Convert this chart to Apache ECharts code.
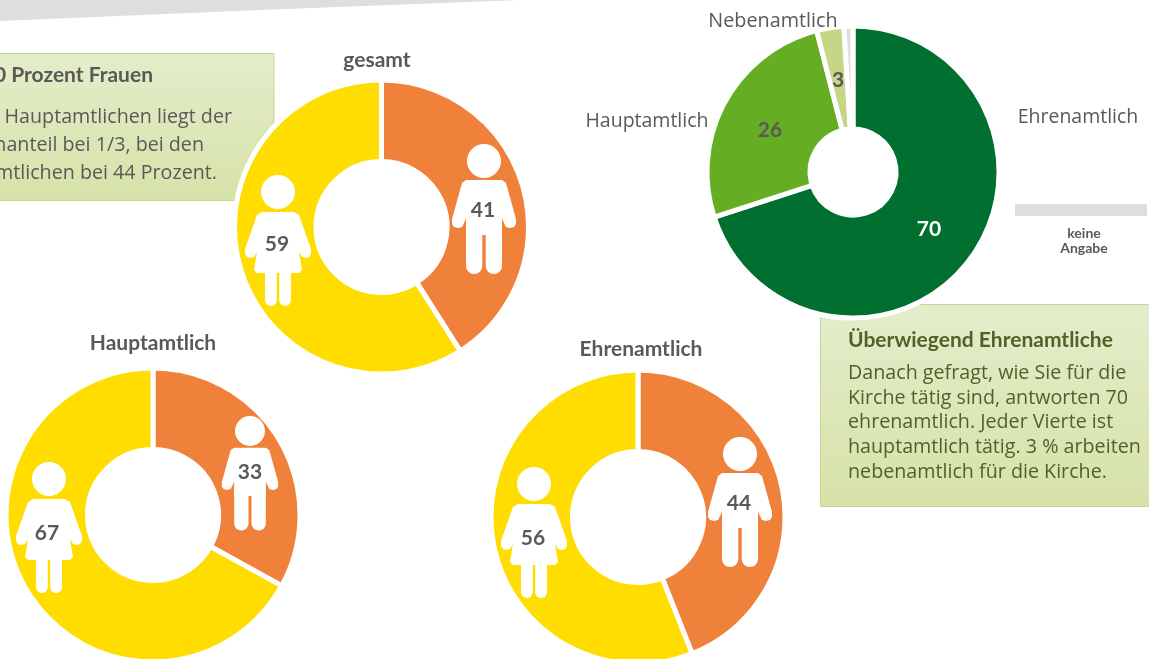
<!DOCTYPE html>
<html>
<head>
<meta charset="utf-8">
<style>
  html, body { margin: 0; padding: 0; background: #fff; overflow: hidden; }
  #chart { width: 1149px; height: 659px; }
</style>
<script src="https://cdn.jsdelivr.net/npm/echarts@6/dist/echarts.min.js"></script>
</head>
<body>
<div id="chart"></div>
<script>
// Data
const genderNames = ['Männer', 'Frauen'];
const gesamtValues = [41, 59];
const hauptamtValues = [33, 67];
const ehrenamtValues = [44, 56];
const roleNames = ['Ehrenamtlich', 'Hauptamtlich', 'Nebenamtlich', 'keine Angabe'];
const roleValues = [70, 26, 3, 1];

const genderColors = ['#f0813a', '#ffdd00'];
const roleColors = ['#006f2f', '#65ae24', '#c5d686', '#dedede'];

const grayText = '#595959';
const boxText = '#4f6228';
const font = 'Lato';
const bodyFont = '"Open Sans"';

const leftBoxLines = ['Bei den Hauptamtlichen liegt der', 'Frauenanteil bei 1/3, bei den', 'Ehrenamtlichen bei 44 Prozent.'];
const rightBoxLines = [
    'Danach gefragt, wie Sie für die',
    'Kirche tätig sind, antworten 70',
    'ehrenamtlich. Jeder Vierte ist',
    'hauptamtlich tätig. 3 % arbeiten',
    'nebenamtlich für die Kirche.'
];

// Person icons, origin at the centre of the head
const manBody = [[-18, 19], [18, 19], [22, 22], [32, 58], [32, 63], [30, 66], [26, 67], [22, 66], [19, 60], [18, 57], [18, 74], [-18, 74], [-18, 57], [-19, 60], [-22, 66], [-26, 67], [-30, 66], [-32, 63], [-32, 58], [-22, 22]];
const manLegs = [[-18, 60, 16.3, 53, 8], [1.7, 60, 16.3, 53, 8]];
const womanBody = [[-16, 20], [16, 20], [21, 23], [33, 57], [33, 62], [31, 65], [28, 66], [24, 65], [21, 60], [24, 78], [21, 81], [-21, 81], [-24, 78], [-21, 60], [-24, 65], [-28, 66], [-31, 65], [-33, 62], [-33, 57], [-21, 23]];
const womanLegs = [[-13, 76, 11.8, 38, 5.7], [1.2, 76, 11.8, 38, 5.7]];

function personIcon(body, legs, x, y, scale) {
    const white = { fill: '#fff' };
    return {
        type: 'group',
        children: [
            { type: 'circle', z: 4, z2: 2.5, shape: { cx: x, cy: y, r: 17 * scale }, style: white },
            {
                type: 'polygon',
                z: 4,
                z2: 2.5,
                shape: { points: body.map(p => [x + p[0] * scale, y + p[1] * scale]) },
                style: white
            }
        ].concat(legs.map(l => ({
            type: 'rect',
            z: 4,
            z2: 2.5,
            shape: {
                x: x + l[0] * scale,
                y: y + l[1] * scale,
                width: l[2] * scale,
                height: l[3] * scale,
                r: l[4] * scale
            },
            style: white
        })))
    };
}

function label(text, x, y, size, weight, color, family, align) {
    return {
        type: 'text',
        z: 6,
        x: x,
        y: y,
        style: {
            text: text,
            fontSize: size,
            fontWeight: weight,
            fontFamily: family || font,
            fill: color,
            align: align || 'center',
            verticalAlign: 'middle'
        }
    };
}

function greenBox(x, y, w, h) {
    return {
        type: 'rect',
        z: 1,
        shape: { x: x, y: y, width: w, height: h },
        style: {
            fill: new echarts.graphic.LinearGradient(0, 0, 0, 1, [
                { offset: 0, color: '#e4edcb' },
                { offset: 1, color: '#d6e2a8' }
            ]),
            stroke: '#c6d88f',
            lineWidth: 1
        }
    };
}

function donut(name, names, values, colors, center, radius, labelSpots, labelColors) {
    return {
        name: name,
        type: 'pie',
        z: 4,
        animation: false,
        silent: true,
        center: center,
        radius: radius,
        startAngle: 90,
        avoidLabelOverlap: false,
        itemStyle: { borderColor: '#fff', borderWidth: 5 },
        labelLine: { show: false },
        label: {
            show: true,
            position: 'inside',
            formatter: '{c}',
            fontFamily: font,
            fontWeight: 'bold',
            fontSize: 21
        },
        labelLayout: params => {
            const spot = labelSpots[params.dataIndex];
            return spot ? { x: spot[0], y: spot[1], align: 'center', verticalAlign: 'middle' } : {};
        },
        data: values.map((v, i) => ({
            name: names[i],
            value: v,
            itemStyle: { color: colors[i] },
            label: { show: labelSpots[i] != null, color: labelColors[i] }
        }))
    };
}

const chart = echarts.init(document.getElementById('chart'), null, { renderer: 'canvas' });

chart.setOption({
    backgroundColor: '#fff',
    graphic: {
        elements: [
            {
                type: 'polygon',
                z: 1,
                shape: { points: [[0, 0], [520, 0], [260, 10], [0, 21]] },
                style: { fill: '#dedede' }
            },
            greenBox(-4, 53.5, 278, 147),
            greenBox(820.5, 304.5, 340, 202),
            {
                type: 'rect',
                z: 1,
                shape: { x: 1015, y: 204, width: 132, height: 12 },
                style: { fill: '#dedede' }
            },

            label('60 Prozent Frauen', 153, 75, 21, 'bold', grayText, font, 'right'),
            label(leftBoxLines[0], 232, 117, 19.7, 'normal', grayText, bodyFont, 'right'),
            label(leftBoxLines[1], 204, 145, 19.7, 'normal', grayText, bodyFont, 'right'),
            label(leftBoxLines[2], 217, 173, 19.7, 'normal', grayText, bodyFont, 'right'),

            label('Überwiegend Ehrenamtliche', 848, 340, 21, 'bold', boxText, font, 'left'),
            label(rightBoxLines[0], 848, 373, 19.7, 'normal', boxText, bodyFont, 'left'),
            label(rightBoxLines[1], 848, 398, 19.7, 'normal', boxText, bodyFont, 'left'),
            label(rightBoxLines[2], 848, 422, 19.7, 'normal', boxText, bodyFont, 'left'),
            label(rightBoxLines[3], 848, 447, 19.7, 'normal', boxText, bodyFont, 'left'),
            label(rightBoxLines[4], 848, 472, 19.7, 'normal', boxText, bodyFont, 'left'),

            label('gesamt', 377, 60, 21, 'bold', grayText),
            label('Hauptamtlich', 153, 343, 21, 'bold', grayText),
            label('Ehrenamtlich', 641, 349, 21, 'bold', grayText),

            label(roleNames[0], 1078, 117, 19.5, 'normal', grayText, bodyFont),
            label(roleNames[1], 647, 121, 19.5, 'normal', grayText, bodyFont),
            label(roleNames[2], 773, 21, 19.8, 'normal', grayText, bodyFont),
            label('keine', 1084, 233, 14, 'bold', grayText),
            label('Angabe', 1084, 248, 14, 'bold', grayText),

            personIcon(manBody, manLegs, 484, 161, 1),
            personIcon(womanBody, womanLegs, 278, 192, 1),
            personIcon(manBody, manLegs, 250, 431, 0.88),
            personIcon(womanBody, womanLegs, 49, 479, 1),
            personIcon(manBody, manLegs, 740, 454, 1),
            personIcon(womanBody, womanLegs, 534, 484, 1)
        ]
    },
    series: [
        donut('gesamt', genderNames, gesamtValues, genderColors, [381.5, 227], [65.5, 147],
            [[483, 210], [277, 244]], [grayText, grayText]),
        donut('Hauptamtlich', genderNames, hauptamtValues, genderColors, [153, 515], [65.5, 147],
            [[250, 472], [47, 533]], [grayText, grayText]),
        donut('Ehrenamtlich', genderNames, ehrenamtValues, genderColors, [638, 517], [65.5, 147],
            [[739, 503], [533, 538]], [grayText, grayText]),
        donut('Tätigkeit', roleNames, roleValues, roleColors, [853, 172], [43, 146],
            [[929, 229], [770, 130], [838, 80], null], ['#fff', grayText, grayText, grayText])
    ]
});
</script>
</body>
</html>
